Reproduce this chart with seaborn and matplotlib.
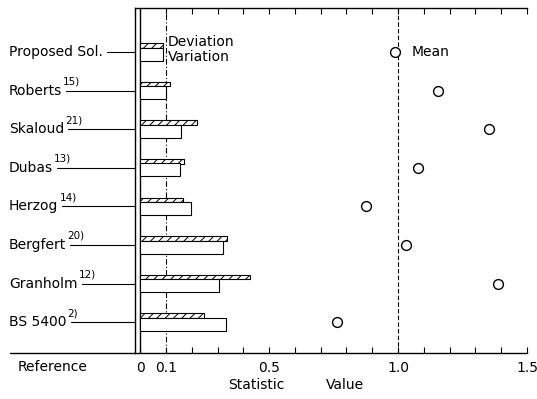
import numpy as np
import pandas as pd
import matplotlib
matplotlib.use("Agg")
import matplotlib.pyplot as plt
import matplotlib.transforms as mtransforms
from matplotlib.lines import Line2D
from matplotlib.ticker import FixedLocator
import seaborn as sns

# ---- data ----
categories = ["Proposed Sol.", "Roberts", "Skaloud", "Dubas", "Herzog",
              "Bergfert", "Granholm", "BS 5400"]
refs = ["", "15)", "21)", "13)", "14)", "20)", "12)", "2)"]
deviation = [0.088, 0.115, 0.220, 0.170, 0.167, 0.336, 0.424, 0.248]
variation = [0.090, 0.100, 0.160, 0.156, 0.196, 0.320, 0.306, 0.332]
mean = [0.99, 1.156, 1.354, 1.079, 0.876, 1.031, 1.386, 0.762]
tick_values = [0, 0.1, 0.5, 1.0, 1.5]
tick_labels = ["0", "0.1", "0.5", "1.0", "1.5"]

sns.set_theme(style="white")
plt.rcParams['font.family'] = ['DejaVu Sans']
plt.rcParams['hatch.linewidth'] = 0.7
plt.rcParams['text.color'] = 'black'
plt.rcParams['axes.labelcolor'] = 'black'
plt.rcParams['xtick.color'] = 'black'

W, H = 537, 399
fig = plt.figure(figsize=(W / 100, H / 100), dpi=100)
fig.patch.set_facecolor("white")
ax_l, ax_r, ax_t, ax_b = 135, 527, 8, 353
ax = fig.add_axes([ax_l / W, 1 - ax_b / H, (ax_r - ax_l) / W, (ax_b - ax_t) / H])
ax.set_facecolor("white")

ypos = np.arange(len(categories))
ax.barh(ypos - 0.168, deviation, height=0.117, left=0, color="white",
        edgecolor="black", hatch="////", linewidth=0.8, zorder=3)
ax.barh(ypos + 0.057, variation, height=0.337, left=0, color="white",
        edgecolor="black", linewidth=0.8, zorder=3)

df = pd.DataFrame({"y": ypos, "mean": mean})
sns.scatterplot(data=df, x="mean", y="y", ax=ax, marker="o", s=50,
                facecolor="white", edgecolor="black", linewidth=1.0, zorder=4)

ax.axvline(0, color="black", lw=1.0, zorder=2)
ax.axvline(0.1, color="black", lw=0.8, ls=(0, (5, 2, 1, 2)), zorder=1)
ax.axvline(1.0, color="black", lw=0.8, ls=(0, (4, 2)), zorder=1)

ax.set_xlim(-0.02, 1.5)
ax.set_ylim(7.80, -1.14)
ax.set_xlabel("")
ax.set_ylabel("")
ax.xaxis.set_major_locator(FixedLocator(tick_values))
ax.set_xticklabels(tick_labels, fontsize=10, color="black")
ax.xaxis.set_minor_locator(FixedLocator(np.round(np.arange(0, 1.51, 0.1), 2)))
ax.set_yticks([])
ax.tick_params(axis="x", which="both", direction="in", top=True, bottom=True,
               length=4, width=0.8, color="black", pad=6)
for s in ["left", "top", "bottom"]:
    ax.spines[s].set_visible(True)
    ax.spines[s].set_color("black")
    ax.spines[s].set_linewidth(1.0)
ax.spines["right"].set_visible(False)

# bottom line extended to the left
fig.add_artist(Line2D([10 / W, ax_l / W], [1 - ax_b / H] * 2,
                      transform=fig.transFigure, color="black", lw=1.0))

# labels with superscripts and leader lines
blend = mtransforms.blended_transform_factory(fig.transFigure, ax.transData)
texts = []
for i, cat in enumerate(categories):
    t = fig.text(9 / W, ypos[i], cat, transform=blend, ha="left", va="center",
                 fontsize=10, color="black")
    texts.append(t)
fig.canvas.draw()
r = fig.canvas.get_renderer()
for i, t in enumerate(texts):
    bb = t.get_window_extent(renderer=r)
    if refs[i]:
        fig.text((bb.x1 + 1) / W, (bb.y1 - 3) / H, refs[i], ha="left",
                 va="bottom", fontsize=7.5, color="black")
    fig.add_artist(Line2D([(bb.x1 + 4) / W, ax_l / W], [ypos[i], ypos[i]],
                          transform=blend, color="black", lw=0.8))

ax.text(0.108, -0.26, "Deviation", ha="left", va="center", fontsize=10, color="black")
ax.text(0.108, 0.14, "Variation", ha="left", va="center", fontsize=10, color="black")
ax.text(1.054, 0.0, "Mean", ha="left", va="center", fontsize=10, color="black")

fig.text(18 / W, 1 - 367 / H, "Reference", ha="left", va="center", fontsize=10, color="black")
fig.text(228 / W, 1 - 385 / H, "Statistic", ha="left", va="center", fontsize=10, color="black")
fig.text(326 / W, 1 - 385 / H, "Value", ha="left", va="center", fontsize=10, color="black")

fig.savefig("out.png", dpi=100, facecolor="white")
